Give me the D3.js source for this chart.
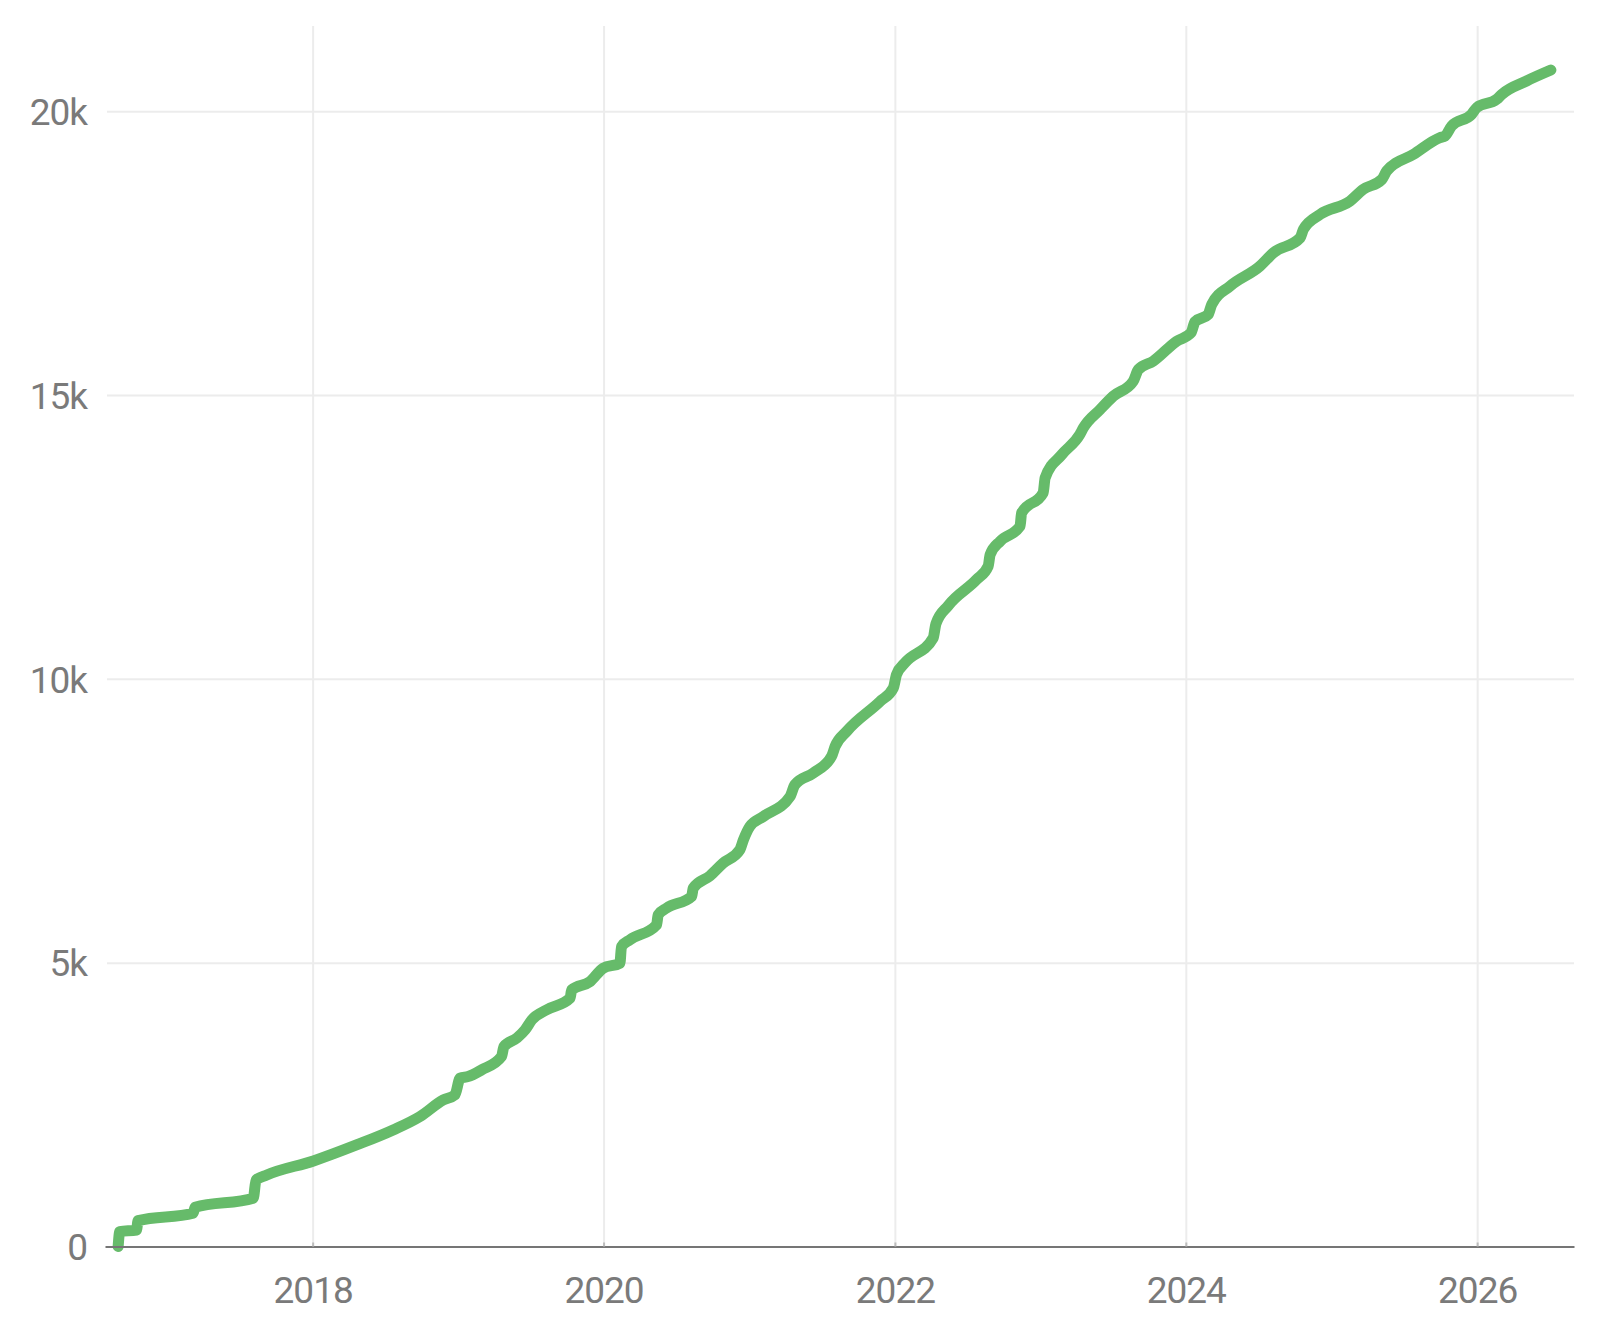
<!DOCTYPE html>
<html>
  <head>
    <title>Cumulative count</title>
    <style>
      body { margin: 0; background: #fff; }
      svg text { font-family: Roboto, "Noto Sans", sans-serif; }
    </style>
  </head>
  <body>
    <svg width="1600" height="1336"></svg>

    <script src="https://d3js.org/d3.v7.min.js"></script>
    <script>

      // dates, one per vertex of the line
      var dates = [
        "2016-08-31", "2016-09-04", "2016-10-16", "2016-10-20", "2017-03-07", "2017-03-12",
        "2017-08-05", "2017-08-12", "2017-09-08", "2018-01-03", "2018-04-21", "2018-07-22",
        "2018-09-27", "2018-11-25", "2018-12-24", "2019-01-06", "2019-01-26", "2019-03-01",
        "2019-04-20", "2019-04-26", "2019-05-28", "2019-06-18", "2019-07-05", "2019-08-11",
        "2019-10-09", "2019-10-13", "2019-11-28", "2019-12-31", "2020-02-11", "2020-02-15",
        "2020-03-07", "2020-05-13", "2020-05-17", "2020-06-07", "2020-08-09", "2020-08-13",
        "2020-09-24", "2020-10-27", "2020-12-08", "2020-12-17", "2021-01-02", "2021-02-05",
        "2021-04-13", "2021-04-25", "2021-06-10", "2021-07-26", "2021-08-04", "2021-09-02",
        "2021-11-25", "2021-12-28", "2022-01-05", "2022-01-26", "2022-04-07", "2022-04-14",
        "2022-05-15", "2022-07-25", "2022-08-23", "2022-08-28", "2022-09-22", "2022-11-11",
        "2022-11-15", "2023-01-08", "2023-01-13", "2023-02-24", "2023-04-10", "2023-04-19",
        "2023-05-31", "2023-07-03", "2023-08-22", "2023-09-04", "2023-10-11", "2023-12-09",
        "2024-01-14", "2024-01-24", "2024-02-26", "2024-03-06", "2024-04-21", "2024-07-05",
        "2024-08-08", "2024-10-14", "2024-10-22", "2024-12-03", "2025-02-16", "2025-03-21",
        "2025-05-07", "2025-05-19", "2025-07-25", "2025-09-30", "2025-10-12", "2025-10-29",
        "2025-12-18", "2025-12-31", "2026-02-19", "2026-03-04", "2026-05-05", "2026-07-05"
      ];

      var counts = [
        0, 261, 290, 455, 585, 690,
        850, 1172, 1260, 1507, 1789, 2053,
        2288, 2582, 2670, 2965, 2993, 3111,
        3346, 3522, 3670, 3816, 3992, 4168,
        4375, 4521, 4667, 4903, 4991, 5284,
        5402, 5667, 5843, 5961, 6166, 6314,
        6530, 6754, 6989, 7165, 7399, 7575,
        7928, 8134, 8340, 8633, 8809, 9074,
        9603, 9838, 10073, 10279, 10720, 10970,
        11290, 11748, 11983, 12188, 12423, 12687,
        12923, 13276, 13540, 13951, 14304, 14421,
        14744, 14979, 15243, 15449, 15595, 15948,
        16096, 16290, 16418, 16595, 16918, 17270,
        17506, 17770, 17917, 18181, 18416, 18622,
        18798, 18945, 19238, 19533, 19561, 19738,
        19944, 20062, 20208, 20297, 20532, 20724
      ];

      var xTickLabels = ["2018", "2020", "2022", "2024", "2026"];
      var yTickValues = [0, 5000, 10000, 15000, 20000];
      var yTickLabels = ["0", "5k", "10k", "15k", "20k"];

      var parseDate = d3.timeParse("%Y-%m-%d"),
        parseYear = d3.timeParse("%Y");

      var data = dates.map(function (d, i) {
        return { date: parseDate(d), value: counts[i] };
      });

      var svg = d3.select("svg"),
        margin = { top: 26, right: 26, bottom: 89.5, left: 105 },
        width = +svg.attr("width"),
        height = +svg.attr("height");

      var x = d3.scaleTime()
        .domain([parseDate("2016-07-29"), parseDate("2026-09-01")])
        .range([margin.left, width - margin.right]);

      var y = d3.scaleLinear()
        .domain([0, 21500])
        .range([height - margin.bottom, margin.top]);

      var xTicks = xTickLabels.map(function (d) { return parseYear(d); });

      // vertical grid
      svg.append("g")
        .attr("class", "x-grid")
        .attr("transform", "translate(0," + y(0) + ")")
        .call(d3.axisBottom(x)
          .tickValues(xTicks)
          .tickSize(-(y(0) - margin.top))
          .tickFormat(""))
        .call(function (g) { g.select(".domain").remove(); })
        .call(function (g) {
          g.selectAll(".tick line").attr("stroke", "#ececec").attr("stroke-width", 2);
        });

      // horizontal grid + y labels
      var gridLeft = margin.left + 2;
      svg.append("g")
        .attr("class", "y-axis")
        .attr("transform", "translate(" + gridLeft + ",0)")
        .call(d3.axisLeft(y)
          .tickValues(yTickValues)
          .tickSize(-(width - margin.right - gridLeft))
          .tickPadding(20)
          .tickFormat(function (d, i) { return yTickLabels[i]; }))
        .call(function (g) { g.select(".domain").remove(); })
        .call(function (g) {
          g.selectAll(".tick line").attr("stroke", "#ececec").attr("stroke-width", 2);
          g.selectAll(".tick text")
            .attr("fill", "#7a7a7a")
            .attr("font-size", 37)
            .attr("letter-spacing", -1)
            .attr("dy", "0.36em");
        });

      var line = d3.line()
        .curve(d3.curveMonotoneX)
        .x(function (d) { return x(d.date); })
        .y(function (d) { return y(d.value); });

      svg.append("path")
        .datum(data)
        .attr("fill", "none")
        .attr("stroke", "#66bb6a")
        .attr("stroke-width", 11)
        .attr("stroke-linecap", "round")
        .attr("stroke-linejoin", "round")
        .attr("d", line);

      // bottom axis
      svg.append("g")
        .attr("class", "x-axis")
        .attr("transform", "translate(0," + y(0) + ")")
        .call(d3.axisBottom(x)
          .tickValues(xTicks)
          .tickSizeInner(-4)
          .tickSizeOuter(0)
          .tickPadding(30)
          .tickFormat(d3.timeFormat("%Y")))
        .call(function (g) {
          g.select(".domain").attr("stroke", "#757575").attr("stroke-width", 2);
          g.selectAll(".tick line").attr("stroke", "#bdbdbd").attr("stroke-width", 2);
          g.selectAll(".tick text")
            .attr("fill", "#7a7a7a")
            .attr("font-size", 37)
            .attr("letter-spacing", -1);
        });

    </script>
  </body>
</html>
